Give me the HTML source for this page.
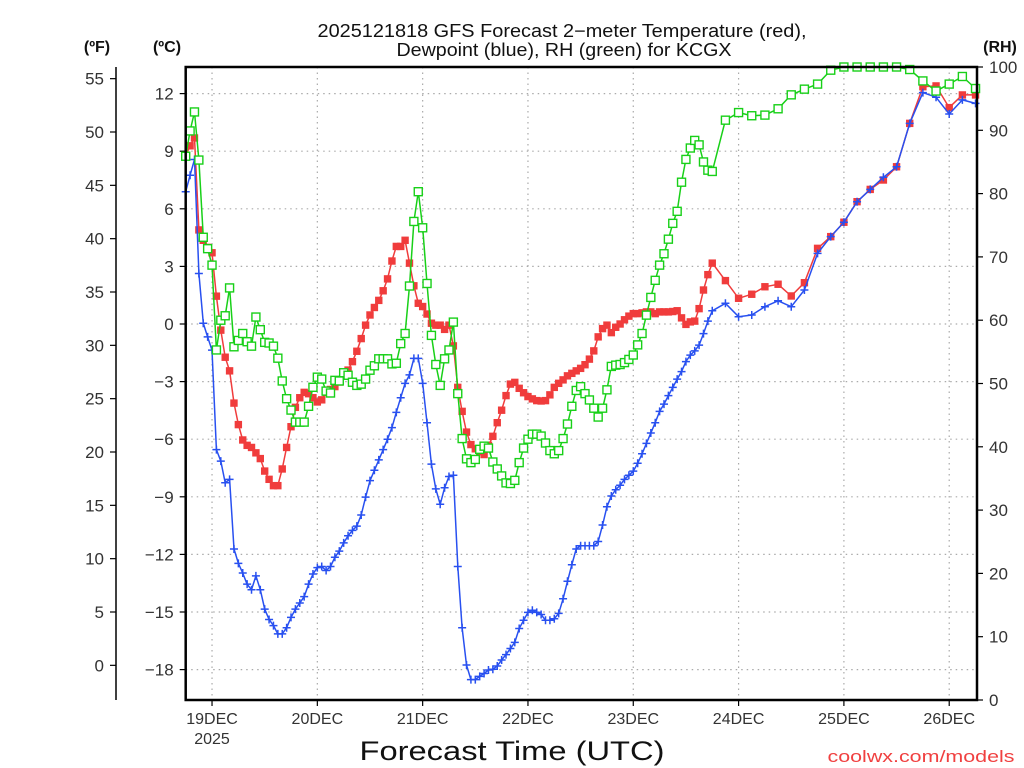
<!DOCTYPE html>
<html><head><meta charset="utf-8"><title>GFS Forecast KCGX</title>
<style>
html,body{margin:0;padding:0;background:#fff;}
svg{display:block;font-family:"Liberation Sans","DejaVu Sans",sans-serif;}
</style></head>
<body>
<svg id="chart" width="1024" height="768" viewBox="0 0 1024 768" xmlns="http://www.w3.org/2000/svg">
<rect x="0" y="0" width="1024" height="768" fill="#fff"/>
<text x="562" y="37" font-size="18" fill="#111" text-anchor="middle" textLength="489" lengthAdjust="spacingAndGlyphs">2025121818 GFS Forecast 2−meter Temperature (red),</text>
<text x="564" y="56" font-size="18" fill="#111" text-anchor="middle" textLength="335" lengthAdjust="spacingAndGlyphs">Dewpoint (blue), RH (green) for KCGX</text>
<text x="97" y="52" font-size="16" font-weight="bold" fill="#111" text-anchor="middle">(ºF)</text>
<text x="167" y="52" font-size="16" font-weight="bold" fill="#111" text-anchor="middle">(ºC)</text>
<text x="1000" y="52" font-size="16" font-weight="bold" fill="#111" text-anchor="middle">(RH)</text>
<g id="grid"></g>
<g id="axes"></g>
<g id="series"></g>
<rect x="185.7" y="67" width="791.3" height="633" fill="none" stroke="#000" stroke-width="2.5"/>
<text x="512" y="760" font-size="27" fill="#111" text-anchor="middle" textLength="305" lengthAdjust="spacingAndGlyphs">Forecast Time (UTC)</text>
<text x="921" y="762" font-size="17" fill="#f04040" text-anchor="middle" textLength="187" lengthAdjust="spacingAndGlyphs">coolwx.com/models</text>
</svg>
<script>
// ---- data ----
const dayLabels = ["19DEC","20DEC","21DEC","22DEC","23DEC","24DEC","25DEC","26DEC"];
const dayHours = [6,30,54,78,102,126,150,174];
const celsiusTicks = [12,9,6,3,0,-3,-6,-9,-12,-15,-18];
const fahrenheitTicks = [55,50,45,40,35,30,25,20,15,10,5,0];
const rhTicks = [100,90,80,70,60,50,40,30,20,10,0];
// hourly 0..120, then 3-hourly 123..180
const tempHourly = [8.78,9.28,9.69,4.9,4.36,3.99,3.71,1.45,-0.32,-1.73,-2.44,-4.12,-5.24,-6.04,-6.32,-6.43,-6.71,-7.01,-7.66,-8.09,-8.42,-8.42,-7.55,-6.43,-5.35,-4.34,-3.84,-3.56,-3.63,-3.84,-4.06,-3.95,-3.56,-3.41,-3.26,-3.02,-2.66,-2.4,-1.96,-1.42,-0.76,-0.06,0.47,0.86,1.23,1.73,2.35,3.28,4.04,4.04,4.36,3.17,1.99,1.08,0.91,0.52,0.04,-0.06,-0.06,-0.28,-0.06,
-1.14,-3.3,-4.55,-5.63,-6.28,-6.5,-6.65,-6.8,-6.32,-5.85,-5.14,-4.49,-3.73,-3.13,-3.04,-3.35,-3.58,-3.78,-3.9,-3.99,-4.01,-3.99,-3.69,-3.3,-3.09,-2.91,-2.7,-2.57,-2.44,-2.31,-2.12,-1.83,-1.4,-0.67,-0.24,-0.06,-0.45,-0.17,0,0.22,0.41,0.54,0.54,0.58,0.63,0.63,0.54,0.63,0.63,0.63,0.65,0.69,0.32,-0.02,0.11,0.15,0.8,1.77,2.57,3.17];
const temp3h = [2.26,1.34,1.55,1.94,2.07,1.46,2.15,3.94,4.55,5.3,6.37,7.01,7.5,8.19,10.45,12.36,12.4,11.27,11.93,11.93];
const dewHourly = [6.89,7.75,8.57,2.63,0.04,-0.67,-1.36,-6.54,-7.14,-8.27,-8.09,-11.72,-12.47,-12.97,-13.55,-13.84,-13.12,-13.84,-14.85,-15.39,-15.71,-16.14,-16.14,-15.82,-15.28,-14.85,-14.53,-14.2,-13.55,-13.02,-12.69,-12.63,-12.84,-12.63,-12.15,-11.83,-11.4,-11.03,-10.75,-10.53,-9.95,-9.02,-8.16,-7.62,-7.08,-6.54,-6.0,-5.4,-4.6,-3.84,-3.09,-2.65,-1.79,-1.79,-3.09,-5.14,-7.3,-8.59,-9.39,-8.53,-7.94,
-7.88,-12.63,-15.82,-17.76,-18.52,-18.52,-18.35,-18.2,-18.02,-17.98,-17.81,-17.5,-17.22,-16.9,-16.58,-15.86,-15.43,-15.02,-14.91,-15.02,-15.13,-15.43,-15.43,-15.35,-15.07,-14.31,-13.4,-12.54,-11.72,-11.55,-11.55,-11.55,-11.55,-11.33,-10.47,-9.52,-8.96,-8.63,-8.4,-8.09,-7.88,-7.66,-7.25,-6.76,-6.22,-5.68,-5.14,-4.55,-4.17,-3.73,-3.3,-2.87,-2.48,-1.96,-1.62,-1.4,-1.1,-0.5,0.15,0.69];
const dew3h = [1.08,0.38,0.47,0.9,1.21,0.9,1.77,3.68,4.55,5.3,6.37,7.01,7.64,8.19,10.45,12.05,11.81,10.94,11.67,11.49];
const rhHourly = [85.9,89.9,92.9,85.3,73.1,71.3,68.7,55.3,60.0,60.7,65.1,55.8,56.8,57.9,56.6,55.9,60.5,58.5,56.5,56.4,55.9,54.0,50.4,47.6,45.8,43.9,43.9,43.9,46.4,49.4,51.0,50.7,48.8,48.5,50.5,50.4,51.7,51.3,50.2,49.7,49.9,50.7,52.1,52.8,53.9,53.9,53.9,53.1,53.2,56.3,57.9,65.4,75.6,80.3,74.6,65.8,57.6,53.0,49.7,53.9,55.3,
59.7,48.4,41.3,38.1,37.5,38.0,39.6,40.1,39.8,37.6,36.5,35.4,34.3,34.2,34.7,37.5,39.8,41.2,42.0,42.0,41.7,40.6,39.4,38.9,39.4,41.3,43.6,46.4,48.9,49.5,48.4,47.4,46.1,44.7,46.1,49.0,52.7,52.9,53.0,53.3,53.8,54.5,56.1,57.9,60.8,63.6,66.3,68.7,70.5,72.8,75.3,77.2,81.8,85.4,87.2,88.4,87.7,85.0,83.7,83.5];
const rh3h = [91.6,92.8,92.3,92.4,93.4,95.6,96.5,97.3,99.5,100,100,100,100,100,99.6,97.8,96.2,97.3,98.5,96.6];

// ---- axes ----
const NS="http://www.w3.org/2000/svg";
const L=185.7,R=977,T=67,B=700;
function xOf(h){return L+h*4.388;}
function yC(c){return 324-c*19.2;}
function yF(f){return yC((f-32)*5/9);}
function yRH(r){return B-r*(B-T)/100;}
function mk(tag,attrs,parent){const e=document.createElementNS(NS,tag);for(const k in attrs)e.setAttribute(k,attrs[k]);parent.appendChild(e);return e;}
function hoursOf(nH,n3){const a=[];for(let i=0;i<nH;i++)a.push(i);for(let j=0;j<n3;j++)a.push(nH-1+3*(j+1));return a;}

const grid=document.getElementById('grid'),axes=document.getElementById('axes'),series=document.getElementById('series');

dayHours.forEach((h,i)=>{
  const x=xOf(h);
  const g=mk('line',{x1:x,y1:T,x2:x,y2:B,stroke:'#aaa','stroke-width':1.2,'stroke-dasharray':'1.5 4'},grid);
  
  
  const t=mk('line',{x1:x,y1:B,x2:x,y2:B+6,stroke:'#000','stroke-width':1.2},axes);
  
  
  const lb=mk('text',{x:x,y:B+24,'font-size':16,fill:'#333','text-anchor':'middle'},axes);
  lb.textContent=dayLabels[i];
  
  
});
const yr=mk('text',{x:xOf(dayHours[0]),y:B+44,'font-size':16,fill:'#333','text-anchor':'middle'},axes);
yr.textContent='2025';



celsiusTicks.forEach(c=>{
  const y=yC(c);
  const g=mk('line',{x1:L,y1:y,x2:R,y2:y,stroke:'#aaa','stroke-width':1.2,'stroke-dasharray':'1.5 4'},grid);
  
  
  const t=mk('line',{x1:L-6,y1:y,x2:L,y2:y,stroke:'#000','stroke-width':1.2},axes);
  
  
  const lb=mk('text',{x:L-12,y:y+6,'font-size':17,fill:'#333','text-anchor':'end'},axes);
  lb.textContent=c<0?'−'+Math.abs(c):String(c);
  
  
});

const fl=mk('line',{x1:116,y1:T,x2:116,y2:B,stroke:'#000','stroke-width':1.5},axes);


fahrenheitTicks.forEach(f=>{
  const y=yF(f);
  const t=mk('line',{x1:110,y1:y,x2:116,y2:y,stroke:'#000','stroke-width':1.2},axes);
  
  
  const lb=mk('text',{x:104,y:y+6,'font-size':17,fill:'#333','text-anchor':'end'},axes);
  lb.textContent=String(f);
  
  
});

rhTicks.forEach(r=>{
  const y=yRH(r);
  const t=mk('line',{x1:R,y1:y,x2:R+6,y2:y,stroke:'#000','stroke-width':1.2},axes);
  
  
  const lb=mk('text',{x:R+12,y:y+6,'font-size':17,fill:'#333','text-anchor':'start'},axes);
  lb.textContent=String(r);
  
  
});

// ---- series ----
function drawSeries(vals,yfn,color,kind,name){
  const hrs=hoursOf(tempHourly.length, temp3h.length);
  const g=mk('g',{},series);
  
  
  const pts=vals.map((v,i)=>xOf(hrs[i]).toFixed(1)+','+yfn(v).toFixed(1)).join(' ');
  const pl=mk('polyline',{points:pts,fill:'none',stroke:color,'stroke-width':1.5},g);
  
  
  vals.forEach((v,i)=>{
    const x=xOf(hrs[i]),y=yfn(v);
    let m;
    if(kind==='fill'){m=mk('rect',{x:x-3.7,y:y-3.7,width:7.4,height:7.4,fill:color},g);}
    else if(kind==='open'){m=mk('rect',{x:x-4,y:y-4,width:8,height:8,fill:'#fff',stroke:color,'stroke-width':1.4},g);}
    else {m=mk('path',{d:`M${x-4},${y}H${x+4}M${x},${y-4}V${y+4}`,stroke:color,'stroke-width':1.5,fill:'none'},g);}
    
    
  });
}
drawSeries(tempHourly.concat(temp3h),yC,'#f03c3c','fill','temperature-series');
drawSeries(dewHourly.concat(dew3h),yC,'#2850f0','plus','dewpoint-series');
drawSeries(rhHourly.concat(rh3h),yRH,'#18d018','open','rh-series');
</script>
</body></html>
